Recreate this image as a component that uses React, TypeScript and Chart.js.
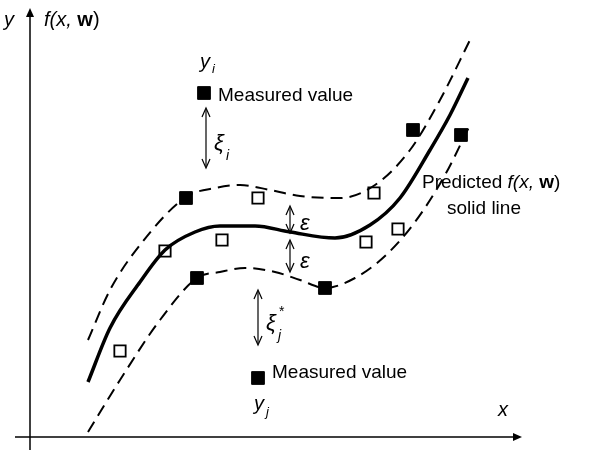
import React, { useEffect, useRef } from "react";
import { Chart, registerables } from "chart.js";
Chart.register(...registerables);

const solidX = [88, 110, 140, 165, 195, 220, 255, 290, 335, 370, 400, 430, 450, 468];
const solidY = [382, 328, 282, 250, 232, 226, 226, 232, 238, 225, 198, 150, 115, 78];
const upperX = [88, 110, 140, 186, 215, 240, 270, 300, 340, 375, 410, 440, 470];
const upperY = [340, 290, 245, 197, 188, 185, 190, 196, 198, 185, 150, 100, 40];
const lowerX = [88, 120, 160, 197, 220, 245, 275, 300, 325, 355, 385, 415, 445, 470];
const lowerY = [432, 380, 320, 278, 272, 268, 272, 280, 288, 278, 256, 222, 175, 125];
const filledX = [204, 186, 197, 325, 258, 413, 461];
const filledY = [93, 198, 278, 288, 378, 130, 135];
const openX = [165, 222, 258, 120, 374, 366, 398];
const openY = [251, 240, 198, 351, 193, 242, 229];

const pts = (xs: number[], ys: number[]) => xs.map((x, i) => ({ x, y: ys[i] }));

const overlay = {
  id: "overlay",
  afterDatasetsDraw(chart: any) {
    const c = chart.ctx as CanvasRenderingContext2D;
    const sx = chart.scales.x, sy = chart.scales.y;
    const P = (x: number, y: number) => [sx.getPixelForValue(x), sy.getPixelForValue(y)];
    c.save();
    c.strokeStyle = "#000"; c.fillStyle = "#000"; c.lineWidth = 1.5;
    const line = (x1: number, y1: number, x2: number, y2: number) => {
      const a = P(x1, y1), b = P(x2, y2);
      c.beginPath(); c.moveTo(a[0], a[1]); c.lineTo(b[0], b[1]); c.stroke();
    };
    const head = (x: number, y: number, dx: number, dy: number, open = false) => {
      const [px, py] = P(x, y);
      const L = 9, W = 4;
      const nx = -dy, ny = dx;
      c.beginPath();
      c.moveTo(px - dx * L + nx * W, py - dy * L + ny * W);
      c.lineTo(px, py);
      c.lineTo(px - dx * L - nx * W, py - dy * L - ny * W);
      if (open) { c.stroke(); } else { c.closePath(); c.fill(); }
    };
    line(30, 450, 30, 14); head(30, 8, 0, -1);
    line(15, 437, 515, 437); head(522, 437, 1, 0);
    const dbl = (x: number, y1: number, y2: number) => {
      line(x, y1 + 2, x, y2 - 2); head(x, y1, 0, -1, true); head(x, y2, 0, 1, true);
    };
    c.lineWidth = 1.2;
    dbl(206, 108, 168);
    dbl(290, 206, 233);
    dbl(290, 240, 272);
    dbl(258, 290, 345);
    c.textBaseline = "alphabetic";
    const F = "Liberation Sans, Arial, sans-serif";
    const seq = (x: number, y: number, parts: [string, string][], align: "left" | "center" = "left") => {
      let [px, py] = P(x, y);
      const widths = parts.map(([s, f]) => { c.font = f; return c.measureText(s).width; });
      if (align === "center") px -= widths.reduce((a, b) => a + b, 0) / 2;
      c.textAlign = "left";
      parts.forEach(([s, f], i) => { c.font = f; c.fillText(s, px, py); px += widths[i]; });
    };
    const t = (s: string, x: number, y: number, f: string) => seq(x, y, [[s, f]]);
    const I = `italic 20px ${F}`, B = `bold 20px ${F}`, N = `20px ${F}`;
    t("y", 4, 26, I);
    seq(44, 26, [["f(", I], ["x, ", I], ["w", B], [")", N]]);
    t("x", 498, 416, I);
    t("y", 200, 68, I);
    t("i", 212, 73, `italic 13px ${F}`);
    t("Measured value", 218, 101, `19px ${F}`);
    t("ξ", 214, 150, `italic 22px ${F}`);
    t("i", 226, 160, `italic 14px ${F}`);
    t("ε", 300, 230, `italic 22px ${F}`);
    t("ε", 300, 268, `italic 22px ${F}`);
    t("ξ", 266, 330, `italic 22px ${F}`);
    t("*", 279, 316, `14px ${F}`);
    t("j", 278, 340, `italic 14px ${F}`);
    t("Measured value", 272, 378, `19px ${F}`);
    t("y", 254, 410, I);
    t("j", 266, 416, `italic 13px ${F}`);
    seq(422, 188, [["Predicted ", `19px ${F}`], ["f(x, ", `italic 19px ${F}`], ["w", `bold 19px ${F}`], [")", `19px ${F}`]]);
    seq(484, 214, [["solid line", `19px ${F}`]], "center");
    c.restore();
  },
};

export default function App() {
  const ref = useRef<HTMLCanvasElement>(null);
  useEffect(() => {
    const chart = new Chart(ref.current!, {
      type: "scatter",
      data: {
        datasets: [
          { type: "line", data: pts(solidX, solidY), borderColor: "#000", borderWidth: 3.5, pointRadius: 0, tension: 0.4, cubicInterpolationMode: "monotone" } as any,
          { type: "line", data: pts(upperX, upperY), borderColor: "#000", borderWidth: 2, borderDash: [12, 7], pointRadius: 0, tension: 0.4, cubicInterpolationMode: "monotone" } as any,
          { type: "line", data: pts(lowerX, lowerY), borderColor: "#000", borderWidth: 2, borderDash: [12, 7], pointRadius: 0, tension: 0.4, cubicInterpolationMode: "monotone" } as any,
          { data: pts(openX, openY), pointStyle: "rect", pointRadius: 8, backgroundColor: "#fff", borderColor: "#000", borderWidth: 1.8 },
          { data: pts(filledX, filledY), pointStyle: "rect", pointRadius: 9, backgroundColor: "#000", borderColor: "#000", borderWidth: 1 },
        ],
      },
      options: {
        animation: false,
        responsive: false,
        layout: { padding: 0, autoPadding: false },
        plugins: { legend: { display: false }, tooltip: { enabled: false } },
        scales: {
          x: { type: "linear", min: 0, max: 592, display: false },
          y: { type: "linear", min: 0, max: 462, reverse: true, display: false },
        },
      },
      plugins: [overlay],
    });
    return () => chart.destroy();
  }, []);
  return (
    <div style={{ position: "fixed", left: 0, top: 0, width: 592, height: 462, background: "#fff" }}>
      <canvas ref={ref} width={592} height={462} style={{ width: 592, height: 462 }} />
    </div>
  );
}
